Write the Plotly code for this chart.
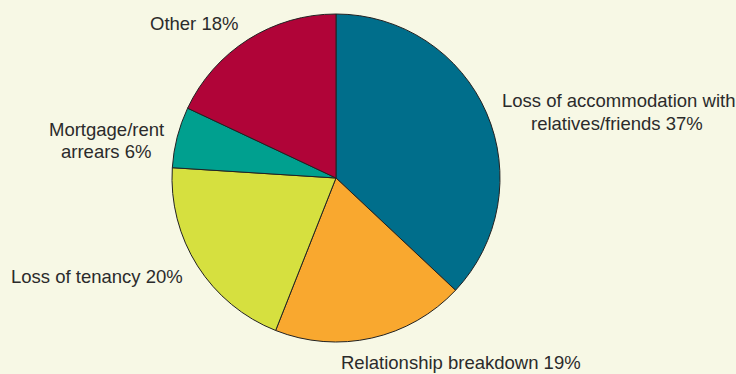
import plotly.graph_objects as go

categories = [
    "Loss of accommodation with<br>relatives/friends",
    "Relationship breakdown",
    "Loss of tenancy",
    "Mortgage/rent<br>arrears",
    "Other",
]
values = [37, 19, 20, 6, 18]
colors = ["#006E8B", "#F9A82F", "#D6E03F", "#00A08F", "#B00438"]

W, H = 736, 374
cx, cy, r = 336, 178, 164
bg = "#F7F8E5"

# label line centres (pixel positions), per category
label_pos = [
    [(618, 101), (617, 123)],
    [(461, 362)],
    [(97, 276)],
    [(106, 129), (106, 151)],
    [(194, 23)],
]

fig = go.Figure(go.Pie(
    labels=[c.replace("<br>", " ") for c in categories],
    values=values,
    sort=False,
    direction="clockwise",
    rotation=0,
    marker=dict(colors=colors, line=dict(color="#222222", width=1)),
    textinfo="none",
    hoverinfo="label+percent",
    domain=dict(x=[(cx - r) / W, (cx + r) / W], y=[1 - (cy + r) / H, 1 - (cy - r) / H]),
    showlegend=False,
))

annotations = []
for cat, val, pos in zip(categories, values, label_pos):
    lines = cat.split("<br>")
    lines[-1] = f"{lines[-1]} {val}%"
    for line, (px, py) in zip(lines, pos):
        annotations.append(dict(
            text=line, x=px / W, y=1 - py / H, xref="paper", yref="paper",
            xanchor="center", yanchor="middle", showarrow=False,
            font=dict(family="Liberation Sans, Arial, sans-serif", size=18.5, color="#2B2B2B"),
        ))

fig.update_layout(
    width=W, height=H,
    margin=dict(l=0, r=0, t=0, b=0),
    paper_bgcolor=bg, plot_bgcolor=bg,
    annotations=annotations,
)

fig.write_html(
    "out.html",
    config={"displayModeBar": False},
    post_script="document.body.style.margin='0';document.body.style.background='%s';" % bg,
)
